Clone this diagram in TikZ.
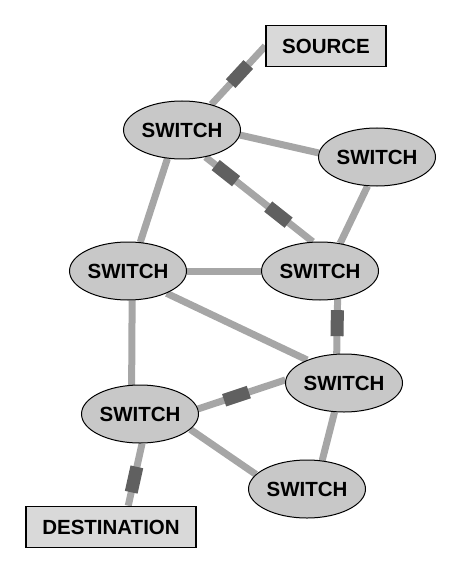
\documentclass[tikz,border=0pt]{standalone}
\usepackage{fontspec}
\setmainfont{Liberation Sans}
\usetikzlibrary{shapes.geometric,backgrounds}
\definecolor{linkgray}{RGB}{166,166,166}
\definecolor{pluggray}{RGB}{96,96,96}
\definecolor{switchgray}{RGB}{200,200,200}
\definecolor{boxgray}{RGB}{217,217,217}

\begin{document}
\begin{tikzpicture}[x = 1pt, y = -1pt,
    switch/.style = { draw, shape = ellipse, fill = switchgray, line width = 1pt, inner sep = 0pt,
                      minimum width = 117pt, minimum height = 58pt, font = \bfseries\fontsize{20.5}{24}\selectfont },
    term/.style = { draw, shape = rectangle, fill = boxgray, line width = 1.6pt, inner xsep = 16pt,
                    minimum height = 41pt, font = \bfseries\fontsize{20.5}{24}\selectfont },
    link/.style = { draw = linkgray, line width = 7pt },
    plug/.style = { fill = pluggray, draw = none, shape = rectangle, sloped, inner sep = 0pt,
                    minimum width = 26pt, minimum height = 13pt }]
    \useasboundingbox (0,0) rectangle (464,572);

    \node [term] (src) at (326,46) {SOURCE};
    \node [term] (dst) at (111,527) {DESTINATION};
    \node [switch] (s1) at (182,130) {SWITCH};
    \node [switch] (s2) at (377,157) {SWITCH};
    \node [switch] (s3) at (128,271) {SWITCH};
    \node [switch] (s4) at (320,271) {SWITCH};
    \node [switch] (s5) at (344,383) {SWITCH};
    \node [switch] (s6) at (140,414) {SWITCH};
    \node [switch] (s7) at (307,489) {SWITCH};

    \begin{scope}[on background layer]
      \draw [link] (s1.41) -- (src.west) node [plug, pos = .52] {};
      \draw [link] (s1.355) -- (s2.176);
      \draw [link] (s1.243) -- (s3.67);
      \draw [link] (s1.311) -- (s4.104) node [plug, pos = .19] {} node [plug, pos = .68] {};
      \draw [link] (s2.252) -- (s4.54);
      \draw [link] (s3.east) -- (s4.west);
      \draw [link] (s3.330) -- (s5.148);
      \draw [link] (s3.278) -- (s6.106);
      \draw [link] (s4.302) -- (s5.104) node [plug, pos = .44] {};
      \draw [link] (s5.177) -- (s6.5) node [plug, pos = .56] {};
      \draw [link] (s5.252) -- (s7.62);
      \draw [link] (s6.343) -- (s7.164);
      \draw [link] (s6.274) -- (dst.51) node [plug, pos = .58] {};
    \end{scope}
\end{tikzpicture}
\end{document}
